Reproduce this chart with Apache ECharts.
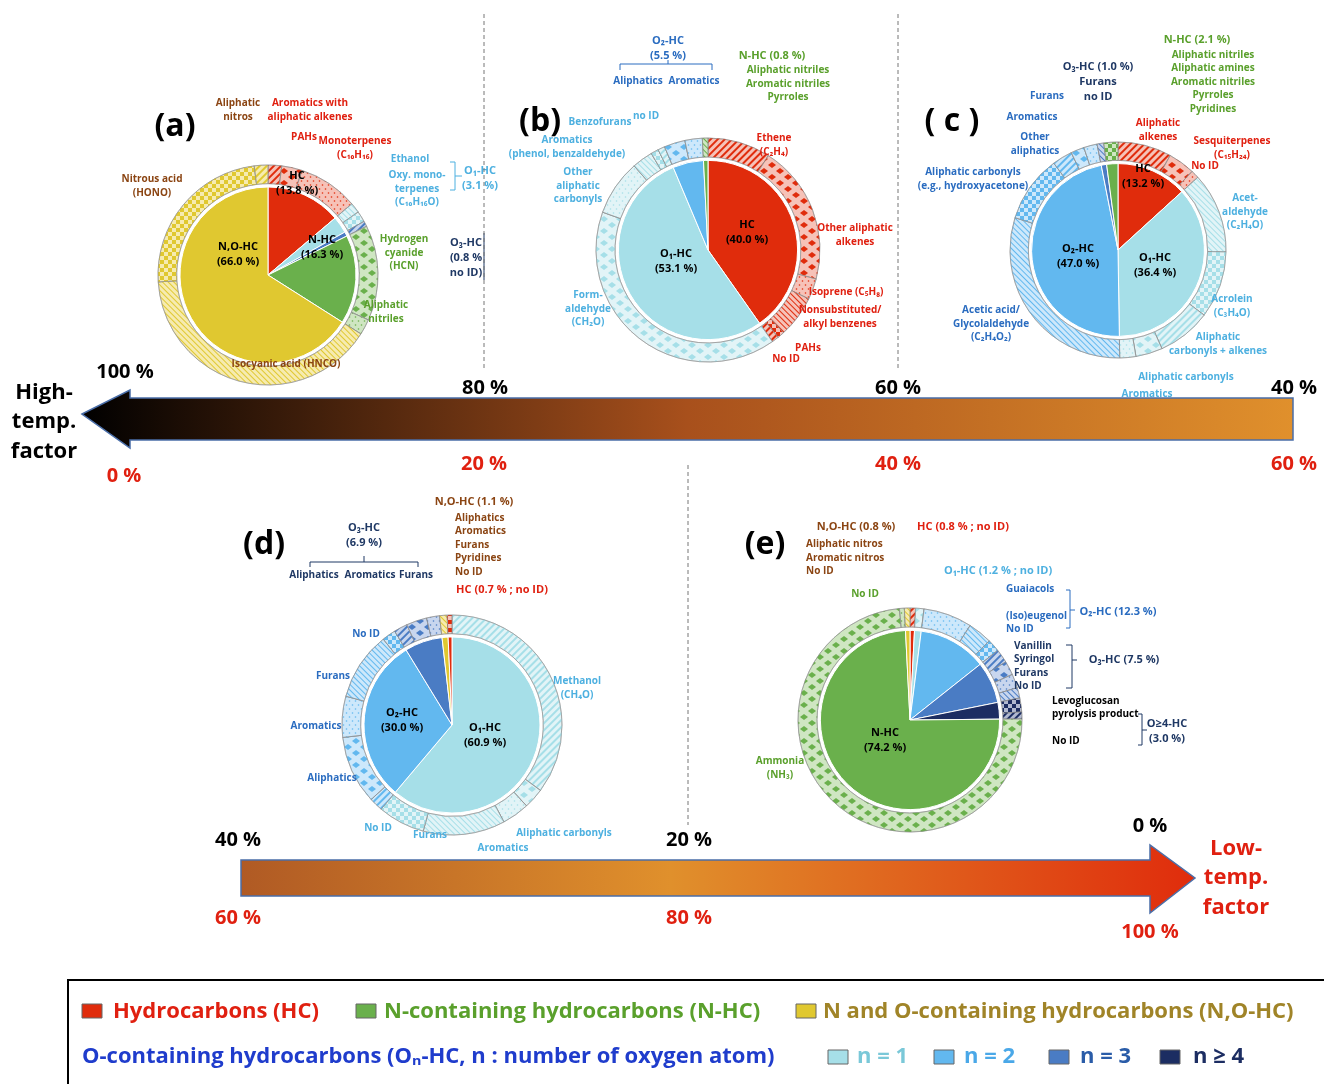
<!DOCTYPE html>
<html style="height: 100%">
<head>
<meta charset="utf-8">
<script src="https://cdn.jsdelivr.net/npm/echarts@6/dist/echarts.min.js"></script>
</head>
<body style="height: 100%; margin: 0; background: #fff">
<div id="target" style="width: 1324px; height: 1084px"></div>
<script>
// ---- data (share in %) ----
// panel a
const aInnerNames  = ["HC", "O1-HC", "O3-HC", "N-HC", "NO-HC"];
const aInnerValues = [13.8, 3.1, 0.8, 16.3, 66.0];
const aOuterNames  = ["Aromatics with aliphatic alkenes", "PAHs", "Monoterpenes", "Ethanol", "Oxy. monoterpenes", "O3 no ID", "Hydrogen cyanide", "Aliphatic nitriles", "Isocyanic acid", "Nitrous acid", "Aliphatic nitros"];
const aOuterGroup  = ["HC", "HC", "HC", "O1-HC", "O1-HC", "O3-HC", "N-HC", "N-HC", "NO-HC", "NO-HC", "NO-HC"];
const aOuterValues = [2.0, 3.0, 8.8, 1.5, 1.6, 0.8, 14.0, 2.3, 40.0, 24.0, 2.0];
// panel b
const bInnerNames  = ["HC", "O1-HC", "O2-HC", "N-HC"];
const bInnerValues = [40.0, 53.1, 5.5, 0.8];
const bOuterNames  = ["Ethene", "Other aliphatic alkenes", "Isoprene", "Nonsubstituted/alkyl benzenes", "PAHs", "No ID", "Formaldehyde", "Other aliphatic carbonyls", "Aromatics", "Benzofurans", "O1 no ID", "Aliphatics", "Aromatics O2", "N-HC"];
const bOuterGroup  = ["HC", "HC", "HC", "HC", "HC", "HC", "O1-HC", "O1-HC", "O1-HC", "O1-HC", "O1-HC", "O2-HC", "O2-HC", "N-HC"];
const bOuterValues = [9.0, 20.0, 3.0, 6.0, 1.0, 1.0, 40.0, 8.0, 3.0, 1.1, 1.0, 3.0, 2.5, 0.8];
// panel c
const cInnerNames  = ["HC", "O1-HC", "O2-HC", "O3-HC", "N-HC"];
const cInnerValues = [13.2, 36.4, 47.0, 1.0, 2.1];
const cOuterNames  = ["Aliphatic alkenes", "Sesquiterpenes", "No ID", "Acetaldehyde", "Acrolein", "Aliphatic carbonyls + alkenes", "Aliphatic carbonyls", "Aromatics", "Acetic acid/Glycolaldehyde", "Aliphatic carbonyls O2", "Other aliphatics", "Aromatics O2", "Furans", "O3-HC", "N-HC"];
const cOuterGroup  = ["HC", "HC", "HC", "O1-HC", "O1-HC", "O1-HC", "O1-HC", "O1-HC", "O2-HC", "O2-HC", "O2-HC", "O2-HC", "O2-HC", "O3-HC", "N-HC"];
const cOuterValues = [8.0, 4.0, 1.2, 12.0, 10.0, 8.0, 4.0, 2.4, 30.0, 10.0, 3.0, 2.0, 2.0, 1.0, 2.1];
// panel d
const dInnerNames  = ["O1-HC", "O2-HC", "O3-HC", "NO-HC", "HC"];
const dInnerValues = [60.9, 30.0, 6.9, 1.1, 0.7];
const dOuterNames  = ["Methanol", "Aliphatic carbonyls", "Aromatics", "Furans", "No ID", "O2 no ID", "Aliphatics", "Aromatics O2", "Furans O2", "No ID O2", "Aliphatics O3", "Aromatics O3", "Furans O3", "N,O-HC", "HC"];
const dOuterGroup  = ["O1-HC", "O1-HC", "O1-HC", "O1-HC", "O1-HC", "O2-HC", "O2-HC", "O2-HC", "O2-HC", "O2-HC", "O3-HC", "O3-HC", "O3-HC", "NO-HC", "HC"];
const dOuterValues = [35.0, 3.0, 4.0, 12.0, 6.9, 2.0, 10.0, 6.0, 10.0, 2.0, 2.0, 3.0, 1.9, 1.1, 0.7];
// panel e
const eInnerNames  = ["HC", "O1-HC", "O2-HC", "O3-HC", "O4-HC", "N-HC", "NO-HC"];
const eInnerValues = [0.8, 1.2, 12.3, 7.5, 3.0, 74.2, 0.8];
const eOuterNames  = ["HC", "O1-HC", "Guaiacols", "(Iso)eugenol", "No ID", "Vanillin", "Syringol", "Furans", "O3 No ID", "Levoglucosan pyrolysis product", "O4 No ID", "Ammonia", "N-HC No ID", "N,O-HC"];
const eOuterGroup  = ["HC", "O1-HC", "O2-HC", "O2-HC", "O2-HC", "O3-HC", "O3-HC", "O3-HC", "O3-HC", "O4-HC", "O4-HC", "N-HC", "N-HC", "NO-HC"];
const eOuterValues = [0.8, 1.2, 7.0, 3.5, 1.8, 2.0, 2.0, 2.0, 1.5, 2.0, 1.0, 73.5, 0.7, 0.8];

const legendNames = ["Hydrocarbons (HC)", "N-containing hydrocarbons (N-HC)", "N and O-containing hydrocarbons (N,O-HC)"];

// ---- styles ----
const fill = {"HC": "#e02c0c", "N-HC": "#6ab04c", "NO-HC": "#e0c830", "O1-HC": "#a6dfe8", "O2-HC": "#62b8ef", "O3-HC": "#4a7cc4", "O4-HC": "#1c2d62"};
const light = {"HC": "#f6c2b8", "N-HC": "#cfe6c2", "NO-HC": "#f6ebb0", "O1-HC": "#e2f4f7", "O2-HC": "#cde8fb", "O3-HC": "#c8d6ee", "O4-HC": "#b0b8d0"};
const patterns = [
    { symbol: "rect", dashArrayX: [1, 0], dashArrayY: [2, 3], rotation: -Math.PI / 4, symbolSize: 1 },
    { symbol: "diamond", dashArrayX: [[8, 8], [0, 8, 8, 0]], dashArrayY: [6, 0], symbolSize: 1 },
    { symbol: "circle", dashArrayX: [[3, 3], [0, 3, 3, 0]], dashArrayY: [2, 2], symbolSize: 0.8 },
    { symbol: "rect", dashArrayX: [1, 0], dashArrayY: [1, 3], rotation: Math.PI / 4, symbolSize: 1 },
    { symbol: "rect", dashArrayX: [[4, 4], [0, 4, 4, 0]], dashArrayY: [4, 0], symbolSize: 1 }
];

let chart = echarts.init(document.getElementById('target'));
let series = [];

let AddPanel = (cx, cy, r, innerNames, innerValues, outerNames, outerGroup, outerValues) => {
    series.push({
        type: "pie", center: [cx, cy], radius: [0, r * 0.8], startAngle: 90, z: 1,
        label: { show: false }, silent: true, animation: false,
        itemStyle: { borderColor: "#fff", borderWidth: 1 },
        data: innerNames.map((n, i) => ({ name: n, value: innerValues[i], itemStyle: { color: fill[n] } }))
    });
    series.push({
        type: "pie", center: [cx, cy], radius: [r * 0.83, r], startAngle: 90, z: 1,
        label: { show: false }, silent: true, animation: false,
        itemStyle: { borderColor: "#888", borderWidth: 0.5 },
        data: outerNames.map((n, i) => {
            let g = outerGroup[i];
            let p = Object.assign({}, patterns[i % patterns.length], { color: fill[g] });
            return { name: n, value: outerValues[i], itemStyle: { color: light[g], decal: p } };
        })
    });
};

AddPanel(268, 275, 110, aInnerNames, aInnerValues, aOuterNames, aOuterGroup, aOuterValues);
AddPanel(708, 250, 112, bInnerNames, bInnerValues, bOuterNames, bOuterGroup, bOuterValues);
AddPanel(1118, 250, 108, cInnerNames, cInnerValues, cOuterNames, cOuterGroup, cOuterValues);
AddPanel(452, 725, 110, dInnerNames, dInnerValues, dOuterNames, dOuterGroup, dOuterValues);
AddPanel(910, 720, 112, eInnerNames, eInnerValues, eOuterNames, eOuterGroup, eOuterValues);

const cRed = "#e02010", cGreen = "#5aa02c", cLb = "#4db0e0", cBl = "#2a6cc0", cDk = "#1f3864", cBr = "#8b4513";
let g = [];
let T = (x, y, text, color, size, weight, align) => {
    g.push({ type: "text", z: 100, x: x, y: y, style: { text: text, fill: color || "#000", font: (weight || "bold") + " " + (size || 10) + "px 'Open Sans', sans-serif", align: align || "center", verticalAlign: "middle", lineHeight: (size || 10) * 1.35 } });
};
let L = (pts, color) => { g.push({ type: "polyline", z: 100, shape: { points: pts }, style: { stroke: color || "#333", lineWidth: 1, fill: null } }); };

// panel letters
T(175, 127, "(a)", "#000", 32); T(540, 122, "(b)", "#000", 32); T(952, 122, "( c )", "#000", 32);
T(264, 545, "(d)", "#000", 32); T(765, 545, "(e)", "#000", 32);

// panel a labels
T(238, 110, "Aliphatic\nnitros", cBr); T(310, 110, "Aromatics with\naliphatic alkenes", cRed); T(304, 137, "PAHs", cRed);
T(355, 148, "Monoterpenes\n(C₁₀H₁₆)", cRed); T(410, 159, "Ethanol", cLb); T(417, 189, "Oxy. mono-\nterpenes\n(C₁₀H₁₆O)", cLb);
T(480, 178, "O₁-HC\n(3.1 %)", cLb, 11); T(466, 258, "O₃-HC\n(0.8 %\nno ID)", cDk, 11);
T(404, 253, "Hydrogen\ncyanide\n(HCN)", cGreen); T(386, 312, "Aliphatic\nnitriles", cGreen);
T(152, 186, "Nitrous acid\n(HONO)", cBr); T(286, 364, "Isocyanic acid (HNCO)", cBr);
T(297, 183, "HC\n(13.8 %)", "#000", 11); T(322, 247, "N-HC\n(16.3 %)", "#000", 11); T(238, 254, "N,O-HC\n(66.0 %)", "#000", 11);
// panel b labels
T(668, 48, "O₂-HC\n(5.5 %)", cBl, 11); T(638, 81, "Aliphatics", cBl); T(694, 81, "Aromatics", cBl);
T(772, 56, "N-HC (0.8 %)", cGreen, 11); T(788, 84, "Aliphatic nitriles\nAromatic nitriles\nPyrroles", cGreen);
T(600, 122, "Benzofurans", cLb); T(646, 116, "no ID", cLb); T(567, 147, "Aromatics\n(phenol, benzaldehyde)", cLb);
T(578, 186, "Other\naliphatic\ncarbonyls", cLb); T(588, 309, "Form-\naldehyde\n(CH₂O)", cLb);
T(774, 145, "Ethene\n(C₂H₄)", cRed); T(855, 235, "Other aliphatic\nalkenes", cRed); T(846, 292, "Isoprene (C₅H₈)", cRed);
T(840, 317, "Nonsubstituted/\nalkyl benzenes", cRed); T(808, 348, "PAHs", cRed); T(786, 359, "No ID", cRed);
T(747, 232, "HC\n(40.0 %)", "#000", 11); T(676, 261, "O₁-HC\n(53.1 %)", "#000", 11);
// panel c labels
T(1098, 82, "O₃-HC (1.0 %)\nFurans\nno ID", cDk, 11); T(1197, 40, "N-HC (2.1 %)", cGreen, 11);
T(1213, 82, "Aliphatic nitriles\nAliphatic amines\nAromatic nitriles\nPyrroles\nPyridines", cGreen);
T(1047, 96, "Furans", cBl); T(1032, 117, "Aromatics", cBl); T(1035, 144, "Other\naliphatics", cBl);
T(973, 179, "Aliphatic carbonyls\n(e.g., hydroxyacetone)", cBl); T(1158, 130, "Aliphatic\nalkenes", cRed);
T(1232, 148, "Sesquiterpenes\n(C₁₅H₂₄)", cRed); T(1205, 166, "No ID", cRed);
T(1245, 212, "Acet-\naldehyde\n(C₂H₄O)", cLb); T(1232, 306, "Acrolein\n(C₃H₄O)", cLb);
T(1218, 344, "Aliphatic\ncarbonyls + alkenes", cLb); T(1186, 377, "Aliphatic carbonyls", cLb); T(1147, 394, "Aromatics", cLb);
T(991, 324, "Acetic acid/\nGlycolaldehyde\n(C₂H₄O₂)", cBl);
T(1143, 176, "HC\n(13.2 %)", "#000", 11); T(1078, 256, "O₂-HC\n(47.0 %)", "#000", 11); T(1155, 265, "O₁-HC\n(36.4 %)", "#000", 11);
// panel d labels
T(364, 535, "O₃-HC\n(6.9 %)", cDk, 11); T(314, 575, "Aliphatics", cDk); T(370, 575, "Aromatics", cDk); T(416, 575, "Furans", cDk);
T(474, 502, "N,O-HC (1.1 %)", cBr, 11); T(455, 545, "Aliphatics\nAromatics\nFurans\nPyridines\nNo ID", cBr, 10, "bold", "left");
T(502, 590, "HC (0.7 % ; no ID)", cRed, 11);
T(366, 634, "No ID", cBl); T(333, 676, "Furans", cBl); T(316, 726, "Aromatics", cBl); T(332, 778, "Aliphatics", cBl);
T(378, 828, "No ID", cLb); T(430, 835, "Furans", cLb); T(503, 848, "Aromatics", cLb); T(564, 833, "Aliphatic carbonyls", cLb);
T(577, 688, "Methanol\n(CH₄O)", cLb);
T(402, 720, "O₂-HC\n(30.0 %)", "#000", 11); T(485, 735, "O₁-HC\n(60.9 %)", "#000", 11);
// panel e labels
T(856, 527, "N,O-HC (0.8 %)", cBr, 11); T(806, 558, "Aliphatic nitros\nAromatic nitros\nNo ID", cBr, 10, "bold", "left");
T(963, 527, "HC (0.8 % ; no ID)", cRed, 11); T(998, 571, "O₁-HC (1.2 % ; no ID)", cLb, 11); T(865, 594, "No ID", cGreen);
T(1006, 609, "Guaiacols\n\n(Iso)eugenol\nNo ID", cBl, 10, "bold", "left");
T(1118, 612, "O₂-HC (12.3 %)", cBl, 11);
T(1014, 666, "Vanillin\nSyringol\nFurans\nNo ID", cDk, 10, "bold", "left");
T(1124, 660, "O₃-HC (7.5 %)", cDk, 11);
T(1052, 721, "Levoglucosan\npyrolysis product\n\nNo ID", "#000", 10, "bold", "left");
T(1167, 731, "O≥4-HC\n(3.0 %)", cDk, 11);
T(780, 768, "Ammonia\n(NH₃)", cGreen); T(885, 740, "N-HC\n(74.2 %)", "#000", 11);
// brackets
L([[450, 162], [455, 162], [455, 190], [450, 190]], cLb); L([[455, 176], [462, 176]], cLb);
L([[484, 233], [484, 280]], cDk);
L([[620, 70], [620, 64], [712, 64], [712, 70]], cBl); L([[668, 64], [668, 60]], cBl);
L([[310, 567], [310, 562], [418, 562], [418, 567]], cDk); L([[364, 562], [364, 556]], cDk);
L([[1066, 590], [1070, 590], [1070, 628], [1066, 628]], cBl); L([[1070, 610], [1075, 610]], cBl);
L([[1066, 645], [1072, 645], [1072, 688], [1066, 688]], cDk); L([[1072, 660], [1077, 660]], cDk);
L([[1138, 714], [1142, 714], [1142, 745], [1138, 745]], cDk); L([[1142, 730], [1147, 730]], cDk);

// dashed dividers
g.push({ type: "line", z: 100, shape: { x1: 484, y1: 14, x2: 484, y2: 370 }, style: { stroke: "#777", lineDash: [4, 3] } });
g.push({ type: "line", z: 100, shape: { x1: 898, y1: 14, x2: 898, y2: 370 }, style: { stroke: "#777", lineDash: [4, 3] } });
g.push({ type: "line", z: 100, shape: { x1: 688, y1: 465, x2: 688, y2: 825 }, style: { stroke: "#777", lineDash: [4, 3] } });

// top arrow (pointing left)
g.push({ type: "polygon", z: 90, shape: { points: [[82, 414], [130, 390], [130, 398], [1293, 398], [1293, 440], [130, 440], [130, 448]] },
    style: { stroke: "#4a6ea8", lineWidth: 1.5, fill: new echarts.graphic.LinearGradient(0, 0, 1, 0, [{ offset: 0, color: "#000" }, { offset: 0.5, color: "#a8501c" }, { offset: 1, color: "#e0902c" }]) } });
T(125, 372, "100 %", "#000", 20); T(485, 388, "80 %", "#000", 20); T(898, 388, "60 %", "#000", 20); T(1294, 388, "40 %", "#000", 20);
T(124, 476, "0 %", cRed, 20); T(484, 464, "20 %", cRed, 20); T(898, 464, "40 %", cRed, 20); T(1294, 464, "60 %", cRed, 20);
T(44, 422, "High-\ntemp.\nfactor", "#000", 22);
// bottom arrow (pointing right)
g.push({ type: "polygon", z: 90, shape: { points: [[241, 860], [1150, 860], [1150, 845], [1195, 878], [1150, 913], [1150, 896], [241, 896]] },
    style: { stroke: "#4a6ea8", lineWidth: 1.5, fill: new echarts.graphic.LinearGradient(0, 0, 1, 0, [{ offset: 0, color: "#b05a24" }, { offset: 0.45, color: "#e0902c" }, { offset: 1, color: "#e02c0c" }]) } });
T(238, 840, "40 %", "#000", 20); T(689, 840, "20 %", "#000", 20); T(1150, 826, "0 %", "#000", 20);
T(238, 918, "60 %", cRed, 20); T(689, 918, "80 %", cRed, 20); T(1150, 932, "100 %", cRed, 20);
T(1236, 878, "Low-\ntemp.\nfactor", cRed, 22);

// legend box
g.push({ type: "rect", z: 90, shape: { x: 68, y: 980, width: 1262, height: 110 }, style: { stroke: "#000", lineWidth: 2, fill: "#fff" } });
let sw = (x, y, c) => g.push({ type: "rect", z: 100, shape: { x: x, y: y, width: 20, height: 14 }, style: { fill: c, stroke: "#666" } });
sw(82, 1004, fill["HC"]); T(113, 1012, legendNames[0], cRed, 22, "bold", "left");
sw(356, 1004, fill["N-HC"]); T(384, 1012, legendNames[1], cGreen, 22, "bold", "left");
sw(796, 1004, fill["NO-HC"]); T(823, 1012, legendNames[2], "#a08428", 22, "bold", "left");
T(82, 1057, "O-containing hydrocarbons (Oₙ-HC, n : number of oxygen atom)", "#1f3ccc", 22, "bold", "left");
sw(828, 1050, fill["O1-HC"]); T(857, 1057, "n = 1", "#7ac8d8", 22, "bold", "left");
sw(934, 1050, fill["O2-HC"]); T(964, 1057, "n = 2", "#4aa8e8", 22, "bold", "left");
sw(1049, 1050, fill["O3-HC"]); T(1080, 1057, "n = 3", "#2a5ca8", 22, "bold", "left");
sw(1160, 1050, fill["O4-HC"]); T(1193, 1057, "n ≥ 4", "#1c2d62", 22, "bold", "left");

chart.setOption({ animation: false, series: series, graphic: g });
</script>
</body>
</html>
